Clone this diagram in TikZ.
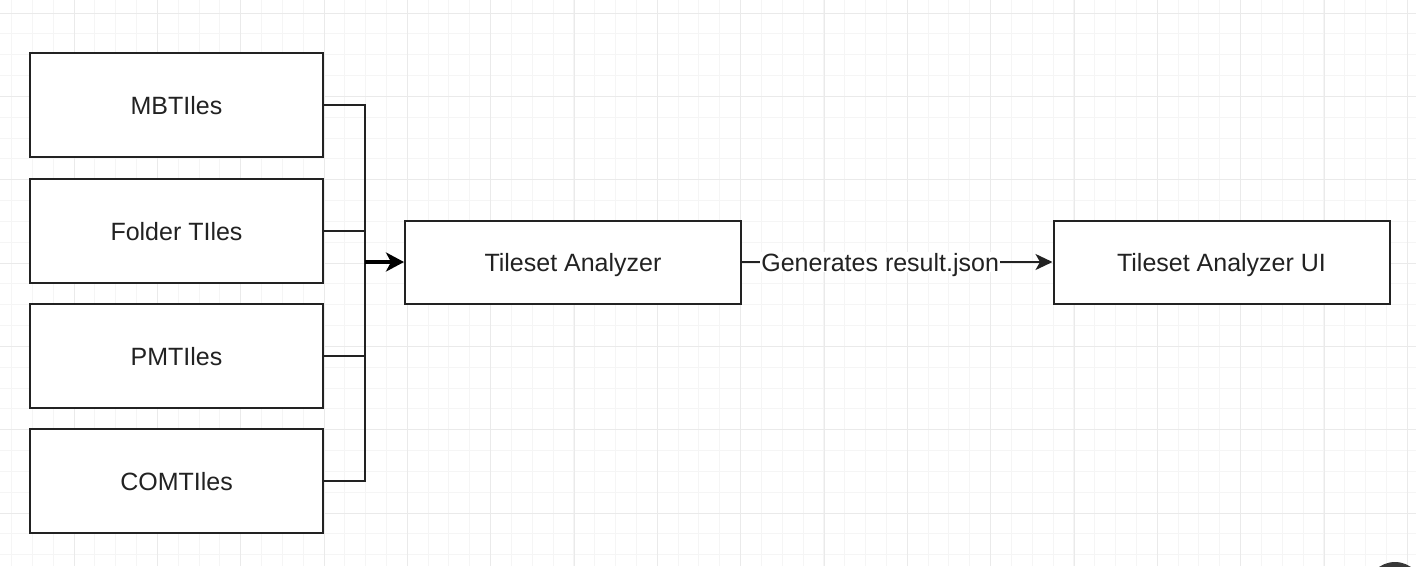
\documentclass[tikz,border=0pt]{standalone}
\usepackage{fontspec}
\setmainfont{Liberation Sans}
\usetikzlibrary{arrows.meta}
\definecolor{minorgrid}{HTML}{F5F5F5}
\definecolor{majorgrid}{HTML}{EAEAEA}
\definecolor{ink}{HTML}{222222}
\tikzset{
  box/.style={draw=ink, line width=2pt, fill=white, rectangle, inner sep=0pt,
    font=\fontsize{25}{29}\selectfont, text=ink, text height=18pt, text depth=0pt},
  srcbox/.style={box, minimum width=293pt, minimum height=104pt},
  mainbox/.style={box, minimum width=336pt, minimum height=83pt},
  conn/.style={draw=ink, line width=2pt},
  bigarrow/.style={draw=black, line width=3.2pt, -{Stealth[length=18pt,width=19pt,inset=5pt]}},
  smallarrow/.style={draw=ink, line width=2pt, -{Stealth[length=17pt,width=16pt,inset=4.5pt]}},
  lbl/.style={fill=white, inner sep=1pt, font=\fontsize{25}{29}\selectfont, text=ink,
    text height=18pt, text depth=0pt}
}
\begin{document}
\begin{tikzpicture}[x=1pt,y=-1pt]
\useasboundingbox (0,0) rectangle (1416,566);
\begin{scope}
\clip (0,0) rectangle (1416,566);
\fill[white] (0,0) rectangle (1416,566);
% minor grid
\foreach \i in {-3,...,67} {
  \draw[minorgrid, line width=1pt] ({74+20.833*\i},0) -- ({74+20.833*\i},566);
}
\foreach \i in {-1,...,27} {
  \draw[minorgrid, line width=1pt] (0,{13+20.833*\i}) -- (1416,{13+20.833*\i});
}
% major grid
\foreach \i in {-1,...,17} {
  \draw[majorgrid, line width=1pt] ({74+83.333*\i},0) -- ({74+83.333*\i},566);
}
\foreach \i in {0,...,7} {
  \draw[majorgrid, line width=1pt] (0,{13+83.333*\i}) -- (1416,{13+83.333*\i});
}
\fill[black!78] (1395,590) circle (28);
\end{scope}

\node[srcbox] (mb) at (176.5,105) {MBTIles};
\node[srcbox] (fo) at (176.5,231) {Folder TIles};
\node[srcbox] (pm) at (176.5,356) {PMTIles};
\node[srcbox] (co) at (176.5,481) {COMTIles};

\node[mainbox] (an) at (573,262) {Tileset Analyzer};
\node[mainbox] (ui) at (1221.5,262) {Tileset Analyzer UI};

\coordinate (bus) at (365,262);
\draw[conn] (mb.east) -| (bus);
\draw[conn] (fo.east) -| (bus);
\draw[conn] (pm.east) -| (bus);
\draw[conn] (co.east) -| (bus);
\draw[bigarrow] (bus) -- (an.west);

\draw[smallarrow] (an.east) -- node[lbl, pos=0.445] {Generates result.json} (ui.west);
\end{tikzpicture}
\end{document}
